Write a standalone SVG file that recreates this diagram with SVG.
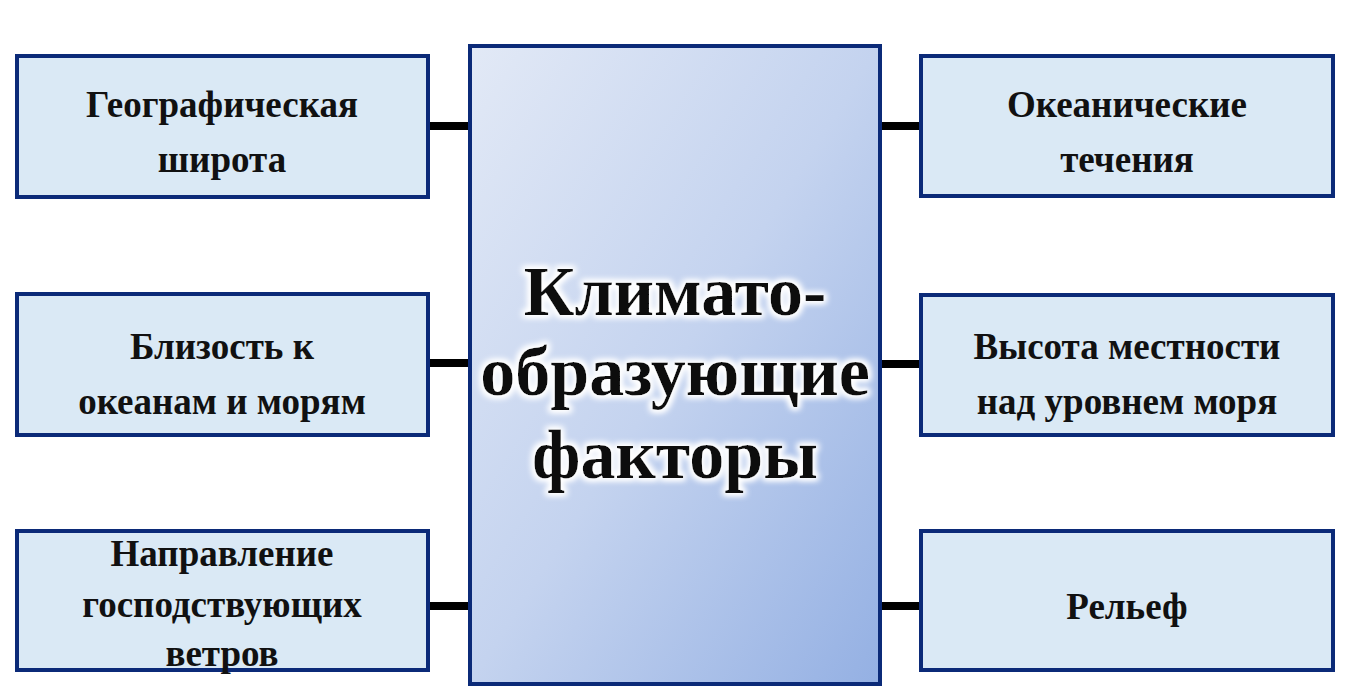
<svg xmlns="http://www.w3.org/2000/svg" width="1349" height="699" viewBox="0 0 1349 699">
<defs>
<linearGradient id="g" x1="0" y1="0" x2="1" y2="1"><stop offset="0" stop-color="#e2e9f6"/><stop offset="0.5" stop-color="#c4d3ef"/><stop offset="1" stop-color="#94b0e3"/></linearGradient>
<filter id="glow" x="-20%" y="-20%" width="140%" height="140%"><feMorphology in="SourceAlpha" operator="dilate" radius="2" result="d"/><feGaussianBlur in="d" stdDeviation="3" result="b"/><feFlood flood-color="#fff"/><feComposite in2="b" operator="in" result="w"/><feMerge><feMergeNode in="w"/><feMergeNode in="w"/><feMergeNode in="SourceGraphic"/></feMerge></filter>
</defs>
<style>
.b{fill:#dae9f5;stroke:#0b2a78;stroke-width:4}
.t{font-family:"Liberation Serif",serif;font-weight:bold;font-size:37px;fill:#111;text-anchor:middle}
.c{font-family:"Liberation Serif",serif;font-weight:bold;font-size:70px;fill:#111;text-anchor:middle}
.l{stroke:#000;stroke-width:8}
</style>
<rect width="1349" height="699" fill="#fff"/>
<g id="connectors">
<line class="l" x1="428" y1="126" x2="470" y2="126"/><line class="l" x1="428" y1="363" x2="470" y2="363"/><line class="l" x1="428" y1="606" x2="470" y2="606"/>
<line class="l" x1="880" y1="126" x2="921" y2="126"/><line class="l" x1="880" y1="364" x2="921" y2="364"/><line class="l" x1="880" y1="606" x2="921" y2="606"/>
</g>
<g id="center"><rect x="470" y="46" width="410" height="638" fill="url(#g)" stroke="#0b2a78" stroke-width="4"/>
<g filter="url(#glow)"><text class="c" x="675" y="315">Климато-</text><text class="c" x="675" y="395">образующие</text><text class="c" x="675" y="478">факторы</text></g></g>
<g id="n1"><rect class="b" x="17" y="56" width="411" height="141"/><text class="t" x="222" y="117">Географическая</text><text class="t" x="222" y="172">широта</text></g>
<g id="n2"><rect class="b" x="17" y="294" width="411" height="141"/><text class="t" x="222" y="359">Близость к</text><text class="t" x="222" y="414">океанам и морям</text></g>
<g id="n3"><rect class="b" x="17" y="531" width="411" height="139"/><text class="t" x="222" y="566">Направление</text><text class="t" x="222" y="617">господствующих</text><text class="t" x="222" y="666">ветров</text></g>
<g id="n4"><rect class="b" x="921" y="56" width="412" height="140"/><text class="t" x="1127" y="117">Океанические</text><text class="t" x="1127" y="172">течения</text></g>
<g id="n5"><rect class="b" x="921" y="295" width="412" height="140"/><text class="t" x="1127" y="359">Высота местности</text><text class="t" x="1127" y="414">над уровнем моря</text></g>
<g id="n6"><rect class="b" x="921" y="531" width="412" height="139"/><text class="t" x="1127" y="619">Рельеф</text></g>
</svg>
